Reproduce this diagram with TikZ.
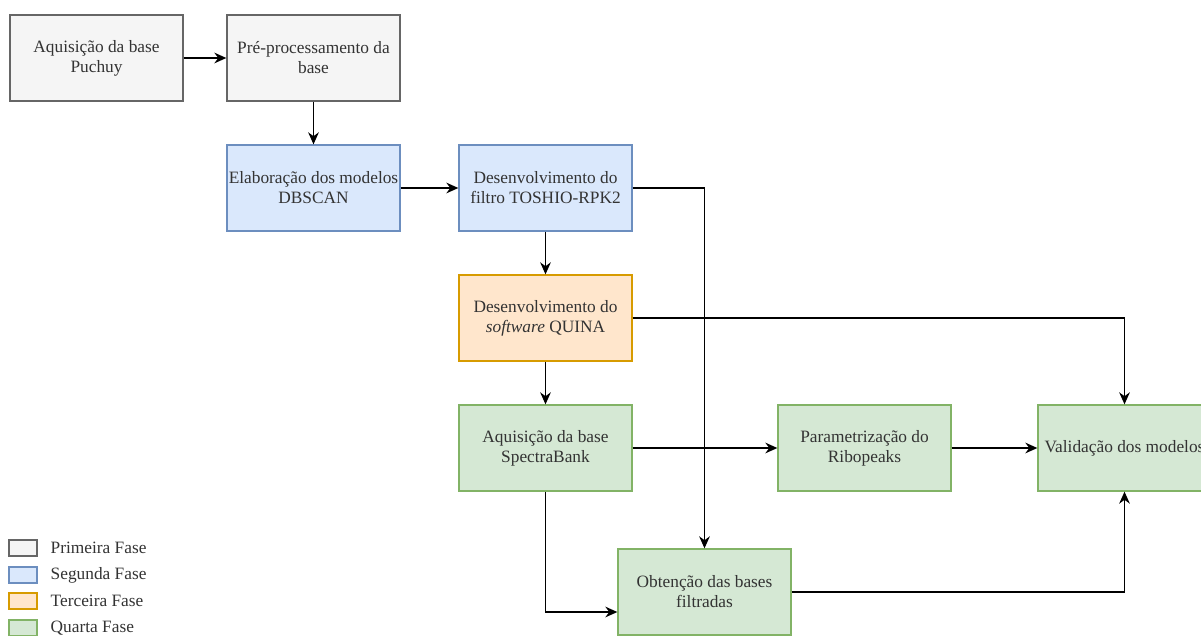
\documentclass[tikz,border=0pt]{standalone}
\usepackage{fontspec}
\setmainfont{Liberation Serif}
\usetikzlibrary{arrows.meta}
\definecolor{cinzaF}{HTML}{F5F5F5}\definecolor{cinzaB}{HTML}{666666}
\definecolor{azulF}{HTML}{DAE8FC}\definecolor{azulB}{HTML}{6C8EBF}
\definecolor{laranjaF}{HTML}{FFE6CC}\definecolor{laranjaB}{HTML}{D79B00}
\definecolor{verdeF}{HTML}{D5E8D4}\definecolor{verdeB}{HTML}{82B366}
\definecolor{textoC}{HTML}{333333}

\begin{document}
\begin{tikzpicture}[x=0.75pt, y=-0.75pt, font=\fontsize{13}{15}\selectfont,
	etapa/.style={draw, line width=1pt, minimum width=129.75pt, minimum height=64.5pt, align=center, inner sep=0pt},
	fase1/.style={etapa, fill=cinzaF, draw=cinzaB, text=textoC},
	fase2/.style={etapa, fill=azulF, draw=azulB, text=textoC},
	fase3/.style={etapa, fill=laranjaF, draw=laranjaB, text=textoC},
	fase4/.style={etapa, fill=verdeF, draw=verdeB, text=textoC},
	leg/.style={line width=0.8pt, minimum width=21pt, minimum height=12pt, inner sep=0pt},
	seta/.style={line width=1.1pt, -{Stealth[length=9pt, width=8pt]}}]
	\useasboundingbox (0,0) rectangle (1201,635);
	\node[fase1] (puchuy) at (96.5,58) {Aquisição da base\\Puchuy};
	\node[fase1] (preproc) at (313.5,58) {Pré-processamento da\\base};
	\node[fase2] (dbscan) at (313.5,188) {Elaboração dos modelos\\DBSCAN};
	\node[fase2] (toshio) at (545.5,188) {Desenvolvimento do\\filtro TOSHIO-RPK2};
	\node[fase3] (quina) at (545.5,318) {Desenvolvimento do\\\textit{software} QUINA};
	\node[fase4] (spectra) at (545.5,448) {Aquisição da base\\SpectraBank};
	\node[fase4] (ribo) at (864.5,448) {Parametrização do\\Ribopeaks};
	\node[fase4] (validacao) at (1124.5,448) {Validação dos modelos};
	\node[fase4] (filtradas) at (704.5,592) {Obtenção das bases\\filtradas};
	\draw[seta] (puchuy) -- (preproc);
	\draw[seta] (preproc) -- (dbscan);
	\draw[seta] (dbscan) -- (toshio);
	\draw[seta] (toshio) -- (quina);
	\draw[seta] (toshio.east) -| (filtradas.north);
	\draw[seta] (quina.east) -| (validacao.north);
	\draw[seta] (quina) -- (spectra);
	\draw[seta] (spectra) -- (ribo);
	\draw[seta] (ribo) -- (validacao);
	\draw[seta] (spectra.south) |- ([yshift=-15pt]filtradas.west);
	\draw[seta] (filtradas.east) -| (validacao.south);
	\node[leg, fill=cinzaF, draw=cinzaB] (leg1) at (23,548) {};
	\node[leg, fill=azulF, draw=azulB] (leg2) at (23,575) {};
	\node[leg, fill=laranjaF, draw=laranjaB] (leg3) at (23,601) {};
	\node[leg, fill=verdeF, draw=verdeB] (leg4) at (23,628) {};
	\node[anchor=west, text=textoC] at (46,548) {Primeira Fase};
	\node[anchor=west, text=textoC] at (46,575) {Segunda Fase};
	\node[anchor=west, text=textoC] at (46,601) {Terceira Fase};
	\node[anchor=west, text=textoC] at (46,628) {Quarta Fase};
\end{tikzpicture}
\end{document}
